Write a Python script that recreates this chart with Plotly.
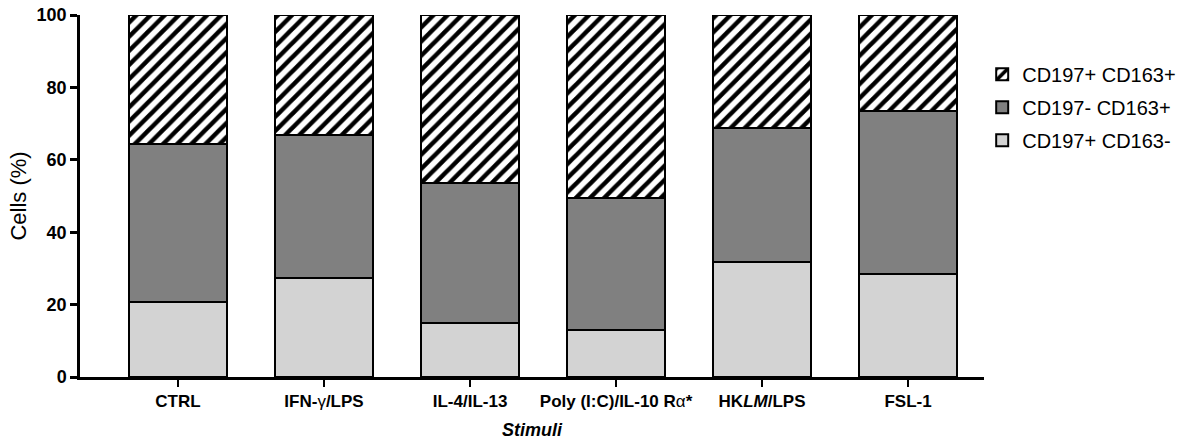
import plotly.graph_objects as go

categories = ["CTRL", "IFN-<span style='font-weight:normal'>γ</span>/LPS", "IL-4/IL-13",
              "Poly (I:C)/IL-10 R<span style='font-weight:normal'>α</span>*",
              "HK<i>LM</i>/LPS", "FSL-1"]
light_vals = [20.8, 27.3, 15.0, 12.9, 31.8, 28.5]   # CD197+ CD163-
dark_vals = [43.7, 39.5, 38.5, 36.6, 36.9, 45.0]    # CD197- CD163+
hatch_vals = [35.5, 33.2, 46.5, 50.5, 31.3, 26.5]   # CD197+ CD163+
y_ticks = [0, 20, 40, 60, 80, 100]

x = list(range(len(categories)))
font_family = "Liberation Sans, Arial, sans-serif"

fig = go.Figure()
fig.add_trace(go.Bar(x=x, y=light_vals, name="CD197+ CD163-", width=0.67,
                     legendgroup="c", legendrank=3,
                     marker=dict(color="#d3d3d3", line=dict(color="black", width=2))))
fig.add_trace(go.Bar(x=x, y=dark_vals, name="CD197- CD163+", width=0.67,
                     legendgroup="b", legendrank=2,
                     marker=dict(color="#808080", line=dict(color="black", width=2))))
fig.add_trace(go.Bar(x=x, y=hatch_vals, name="CD197+ CD163+", width=0.67,
                     legendgroup="a", legendrank=1,
                     marker=dict(color="white", line=dict(color="black", width=2),
                                 pattern=dict(shape="/", fgcolor="black", bgcolor="white",
                                              size=10, solidity=0.45, fillmode="replace"))))

fig.update_layout(
    barmode="stack",
    width=1194, height=448,
    margin=dict(l=80, r=210, t=15, b=71),
    paper_bgcolor="white", plot_bgcolor="white",
    font=dict(family=font_family, color="black"),
    showlegend=True,
    legend=dict(traceorder="grouped", x=0.998, y=0.89, xanchor="left", yanchor="top",
                font=dict(size=20, family=font_family), itemsizing="constant",
                tracegroupgap=4, bgcolor="rgba(0,0,0,0)"),
    xaxis=dict(range=[-0.671, 5.52], tickmode="array", tickvals=x, ticktext=categories,
               automargin=False,
               showline=True, linecolor="black", linewidth=2.5, ticks="outside",
               ticklen=7, tickwidth=2, tickcolor="black", showgrid=False, zeroline=False,
               tickfont=dict(size=17, family=font_family, weight="bold"),
               title=dict(text="<b><i>Stimuli</i></b>", font=dict(size=18, family=font_family),
                          standoff=14)),
    yaxis=dict(range=[0, 100], tickmode="array", tickvals=y_ticks,
               automargin=False,
               showline=True, linecolor="black", linewidth=2.5, ticks="outside",
               ticklen=7, tickwidth=2.5, tickcolor="black", showgrid=False, zeroline=False,
               tickfont=dict(size=18, family=font_family, weight="bold"),
               title=dict(text="Cells (%)", font=dict(size=22, family=font_family),
                          standoff=4)),
)

fig.write_html("out.html")
